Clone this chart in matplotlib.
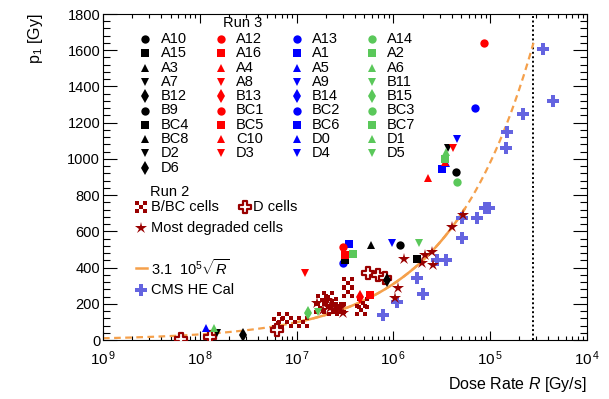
import numpy as np
import matplotlib.pyplot as plt
from matplotlib.path import Path
from matplotlib.ticker import MultipleLocator, LogLocator, NullFormatter

plt.rcParams['font.family'] = 'Liberation Sans'
plt.rcParams['mathtext.fontset'] = 'custom'
plt.rcParams['mathtext.rm'] = 'Liberation Sans'
plt.rcParams['mathtext.it'] = 'Liberation Sans:italic'

# ---- Run 3 samples (legend order, filled per column) ----
black_names = ['A10', 'A15', 'A3', 'A7', 'B12', 'B9', 'BC4', 'BC8', 'D2', 'D6']
red_names = ['A12', 'A16', 'A4', 'A8', 'B13', 'BC1', 'BC5', 'C10', 'D3']
blue_names = ['A13', 'A1', 'A5', 'A9', 'B14', 'BC2', 'BC6', 'D0', 'D4']
green_names = ['A14', 'A2', 'A6', 'B11', 'B15', 'BC3', 'BC7', 'D1', 'D5']

# measured points: dose rate [Gy/s], p1 [Gy], marker
black_R = [4.4e-6, 1.17e-6, 1.74e-6, 5.9e-7, 3.2e-7, 8.5e-7, 2.8e-8, 1.5e-8, 3.7e-6]
black_p1 = [925, 525, 447, 525, 442, 331, 28, 39, 1060]
black_mk = ['o', 'o', 's', '^', 's', 'd', 'd', 'v', 'v']

red_R = [8.7e-6, 4.1e-6, 2.3e-6, 3.4e-6, 1.23e-7, 3.0e-7, 3.2e-7, 4.5e-7, 5.8e-7]
red_p1 = [1640, 1060, 895, 985, 370, 513, 469, 237, 248]
red_mk = ['o', 'v', '^', '^', 'v', 'o', 's', 'd', 's']

blue_R = [6.9e-6, 4.5e-6, 3.2e-6, 3.5e-6, 9.6e-7, 3.5e-7, 3.0e-7, 1.17e-8]
blue_p1 = [1281, 1110, 944, 977, 536, 530, 425, 66]
blue_mk = ['o', 'v', 's', '^', 'v', 's', 'o', '^']

green_R = [4.5e-6, 3.4e-6, 3.5e-6, 1.86e-6, 3.8e-7, 1.3e-7, 1.66e-7, 1.4e-8]
green_p1 = [872, 1000, 1040, 536, 475, 149, 155, 66]
green_mk = ['o', 's', '^', 'v', 's', 'd', 'v', '^']

# ---- Run 2 ----
bbc_R = [3.4e-7, 3.4e-7, 6.4e-8, 9.6e-8, 7.2e-8, 1.17e-7, 1.83e-7, 2.3e-7, 2.6e-7,
         2.1e-7, 1.74e-7, 2.4e-7, 2.8e-7, 4.9e-7, 4.6e-7]
bbc_p1 = [315, 265, 94, 99, 121, 99, 221, 204, 177, 237, 177, 166, 177, 204, 166]

dcell_R = [6.4e-9, 1.27e-8, 6.3e-8, 5.5e-7, 6.9e-7, 8.1e-7]
dcell_p1 = [3, 17, 55, 370, 359, 342]

worst_R = [2.1e-6, 2.5e-6, 2.55e-6, 4.0e-6, 5.2e-6, 1.29e-6, 1.12e-6, 1.05e-6, 1.97e-6,
           3.0e-7, 1.63e-7, 2.06e-7, 2.2e-7, 1.87e-7, 2.8e-7]
worst_p1 = [469, 486, 414, 624, 690, 447, 287, 232, 425, 149, 204, 221, 177, 166, 177]

# ---- CMS HE calorimeter ----
cms_R = [3.5e-5, 4.5e-5, 2.18e-5, 1.49e-5, 1.46e-5, 8.8e-6, 9.7e-6, 7.3e-6, 5.1e-6,
         5.1e-6, 2.8e-6, 3.5e-6, 1.75e-6, 2.0e-6, 1.09e-6, 7.8e-7]
cms_p1 = [1607, 1320, 1248, 1148, 1060, 729, 729, 674, 674, 563, 442, 442, 342, 254, 210, 138]

fit_coef = 3.1e5
fit_solid = [1e-7, 5.5e-6]
fit_range = [1e-9, 2.8e-5]
R_limit = 2.8e-5

c_black, c_red, c_blue, c_green = '#000000', '#ff0000', '#0000ff', '#5ac85a'
c_dred = '#990000'
c_cms = '#6464e0'
c_fit = '#f5a04b'


def plus_path(w=0.34):
    v = [(-w, -1), (w, -1), (w, -w), (1, -w), (1, w), (w, w), (w, 1), (-w, 1),
         (-w, w), (-1, w), (-1, -w), (-w, -w), (-w, -1)]
    return Path(v, closed=True)


def squares_path():
    verts, codes = [], []
    h = 1 / 3
    for cx, cy in [(-2 / 3, -2 / 3), (2 / 3, -2 / 3), (0, 0), (-2 / 3, 2 / 3), (2 / 3, 2 / 3)]:
        verts += [(cx - h, cy - h), (cx + h, cy - h), (cx + h, cy + h), (cx - h, cy + h), (cx - h, cy - h)]
        codes += [Path.MOVETO, Path.LINETO, Path.LINETO, Path.LINETO, Path.CLOSEPOLY]
    return Path(verts, codes)


PLUS = plus_path()
SQUARES = squares_path()
msize = {'o': 6, 's': 5.3, '^': 6, 'v': 6, 'd': 6.8}

style_bbc = dict(marker=SQUARES, ms=8, color=c_dred, mew=0, ls='none')
style_dcell = dict(marker=PLUS, ms=8, mfc='white', mec=c_dred, mew=1.6, ls='none')
style_worst = dict(marker='*', ms=9, color=c_dred, mew=0, ls='none')
style_cms = dict(marker=PLUS, ms=8.5, color=c_cms, mew=0, ls='none')

fig = plt.figure(figsize=(6.09, 3.99), dpi=100)
ax = fig.add_axes([103 / 609, 59 / 399, 484 / 609, 326 / 399])

# fit curve
rr = np.logspace(np.log10(fit_range[0]), np.log10(fit_range[1]), 300)
inside = (rr >= fit_solid[0]) & (rr <= fit_solid[1])
ax.plot(rr, fit_coef * np.sqrt(rr), color=c_fit, lw=1.6, ls=(0, (3, 2)), zorder=2)
ax.plot(rr[inside], fit_coef * np.sqrt(rr[inside]), color=c_fit, lw=1.8, zorder=2.1)

ax.axvline(R_limit, color='black', lw=1.4, ls=(0, (1, 1.3)), zorder=1)

ax.plot(cms_R, cms_p1, zorder=3, **style_cms)
ax.plot(bbc_R, bbc_p1, zorder=3, **style_bbc)
ax.plot(dcell_R, dcell_p1, zorder=3, **style_dcell)
ax.plot(worst_R, worst_p1, zorder=3.5, **style_worst)

for R, p1, mk, col in [(blue_R, blue_p1, blue_mk, c_blue), (black_R, black_p1, black_mk, c_black),
                       (red_R, red_p1, red_mk, c_red), (green_R, green_p1, green_mk, c_green)]:
    for r, p, m in zip(R, p1, mk):
        ax.plot(r, p, marker=m, ms=msize[m], color=col, mew=0, ls='none', zorder=4)

ax.set_xscale('log')
ax.set_xlim(1e-9, 1e-4)
ax.set_ylim(0, 1800)
ax.set_xticks([1e-9, 1e-8, 1e-7, 1e-6, 1e-5, 1e-4])
ax.set_xticklabels([r'10$^{\,9}$', r'10$^{\,8}$', r'10$^{\,7}$', r'10$^{\,6}$', r'10$^{\,5}$', r'10$^{\,4}$'])
ax.xaxis.set_minor_locator(LogLocator(base=10, subs=np.arange(2, 10)))
ax.xaxis.set_minor_formatter(NullFormatter())
ax.yaxis.set_major_locator(MultipleLocator(200))
ax.yaxis.set_minor_locator(MultipleLocator(40))
ax.tick_params(which='both', direction='in', top=True, right=True, width=0.8)
ax.tick_params(axis='x', which='major', length=6.5, labelsize=11, pad=7)
ax.tick_params(axis='x', which='minor', length=3.2)
ax.tick_params(axis='y', which='major', length=10, labelsize=10.5, pad=2)
ax.tick_params(axis='y', which='minor', length=5)
for s in ax.spines.values():
    s.set_linewidth(0.8)

ax.set_xlabel(r'Dose Rate $R$ [Gy/s]', fontsize=11.5, loc='right', va='center')
ax.xaxis.set_label_coords(1.0, -0.135)
ax.set_ylabel(r'p$_1$ [Gy]', fontsize=11.5, loc='top', va='center')
ax.yaxis.set_label_coords(-0.14, 1.0)


# ---- legends, placed in pixel positions of the figure ----
def fx(x):
    return (x - 103) / 484


def fy(y):
    return (340 - y) / 326


T = ax.transAxes
ax.text(fx(243), fy(23), 'Run 3', transform=T, ha='center', va='center', fontsize=10.5)
cols = [(black_names, c_black, 145, 161), (red_names, c_red, 221, 236),
        (blue_names, c_blue, 297, 312), (green_names, c_green, 372, 387)]
cycle = ['o', 's', '^', 'v', 'd']
for names, col, mx, tx in cols:
    for i, name in enumerate(names):
        y = 39 + i * 14.3
        m = cycle[i % 5]
        ax.plot([fx(mx)], [fy(y)], transform=T, marker=m, ms=msize[m], color=col, mew=0,
                ls='none', clip_on=False)
        ax.text(fx(tx), fy(y), name, transform=T, ha='left', va='center', fontsize=10.5)

ax.text(fx(150), fy(192), 'Run 2', transform=T, ha='left', va='center', fontsize=10.5)
ax.plot([fx(141)], [fy(207)], transform=T, **style_bbc)
ax.text(fx(151), fy(207), 'B/BC cells', transform=T, ha='left', va='center', fontsize=10.5)
ax.plot([fx(245)], [fy(207)], transform=T, **style_dcell)
ax.text(fx(253), fy(207), 'D cells', transform=T, ha='left', va='center', fontsize=10.5)
ax.plot([fx(141)], [fy(228)], transform=T, **style_worst)
ax.text(fx(151), fy(228), 'Most degraded cells', transform=T, ha='left', va='center', fontsize=10.5)
ax.plot([fx(136), fx(147)], [fy(268), fy(268)], transform=T, color=c_fit, lw=1.8)
ax.text(fx(151), fy(268), r'3.1  10$^{5}\sqrt{R}$', transform=T, ha='left', va='center', fontsize=10.5)
ax.plot([fx(141)], [fy(290)], transform=T, **style_cms)
ax.text(fx(151), fy(290), 'CMS HE Cal', transform=T, ha='left', va='center', fontsize=10.5)

fig.savefig('out.png', dpi=100)
